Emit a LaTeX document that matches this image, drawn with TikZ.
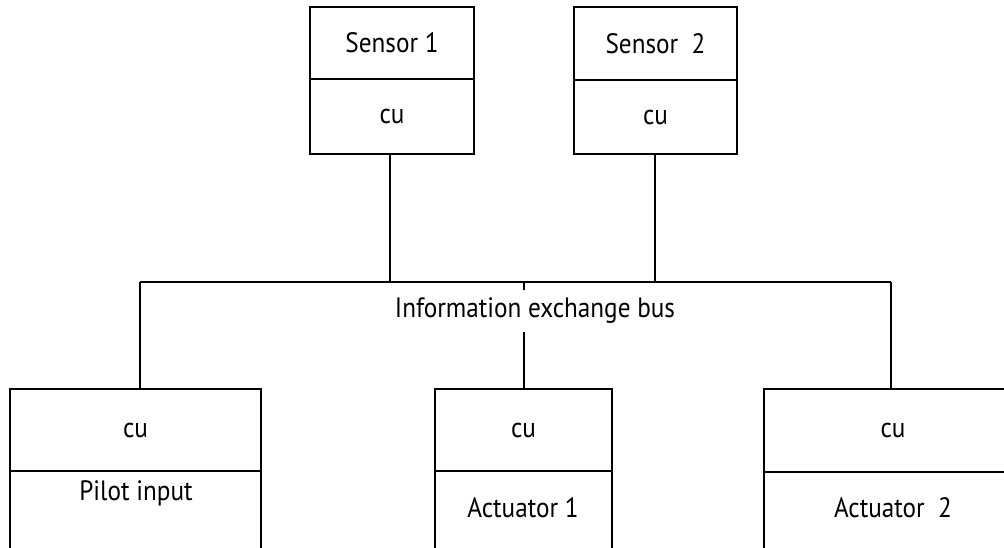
\documentclass[tikz,border=0pt]{standalone}
\usepackage{fontspec}
\setmainfont{PT Sans}[FakeStretch=0.9]
\begin{document}
\begin{tikzpicture}[x=1pt,y=-1pt,
  box/.style={draw, line width=2.6pt, inner sep=0pt, outer sep=0pt, anchor=north west,
              font=\fontsize{28}{32}\selectfont},
  lbl/.style={inner sep=0pt, font=\fontsize{28}{32}\selectfont},
  wire/.style={line width=2.6pt}]
\useasboundingbox (0,0) rectangle (1004,547);
\clip (0,0) rectangle (1004,547);
% sensors
\node[box, minimum width=164pt, minimum height=72pt] (s1top) at (310,7) {Sensor 1};
\node[box, minimum width=164pt, minimum height=75pt] (s1cu) at (310,79) {cu};
\node[box, minimum width=163pt, minimum height=73pt] (s2top) at (574,7) {Sensor\ \ 2};
\node[box, minimum width=163pt, minimum height=74pt] (s2cu) at (574,80) {cu};
% bottom units
\node[box, minimum width=251pt, minimum height=82pt] (pcu) at (10,389) {cu};
\node[box, minimum width=251pt, minimum height=110pt] (plow) at (10,471) {};
\node[lbl] (ptxt) at (136,493) {Pilot input};
\node[box, minimum width=177pt, minimum height=82pt] (a1cu) at (435,389) {cu};
\node[box, minimum width=177pt, minimum height=110pt] (a1low) at (435,471) {};
\node[lbl] (a1txt) at (523,508) {Actuator 1};
\node[box, minimum width=258pt, minimum height=83pt] (a2cu) at (764,389) {cu};
\node[box, minimum width=258pt, minimum height=110pt] (a2low) at (764,472) {};
\node[lbl] (a2txt) at (893,508) {Actuator\ \ 2};
% bus
\coordinate (busL) at (140,282);
\coordinate (busR) at (891,282);
\coordinate (bus1) at (390,282);
\coordinate (bus2) at (655,282);
\coordinate (busC) at (524,282);
\draw[wire] (busL) -- (busR);
\draw[wire] (s1cu.south -| bus1) -- (bus1);
\draw[wire] (s2cu.south -| bus2) -- (bus2);
\draw[wire] (busL) -- (busL |- pcu.north);
\draw[wire] (busR) -- (busR |- a2cu.north);
\draw[wire] (busC) -- (busC |- a1cu.north);
\node[lbl, fill=white, inner xsep=4pt, inner ysep=8pt] (bustxt) at (535,311) {Information exchange bus};
\end{tikzpicture}
\end{document}
